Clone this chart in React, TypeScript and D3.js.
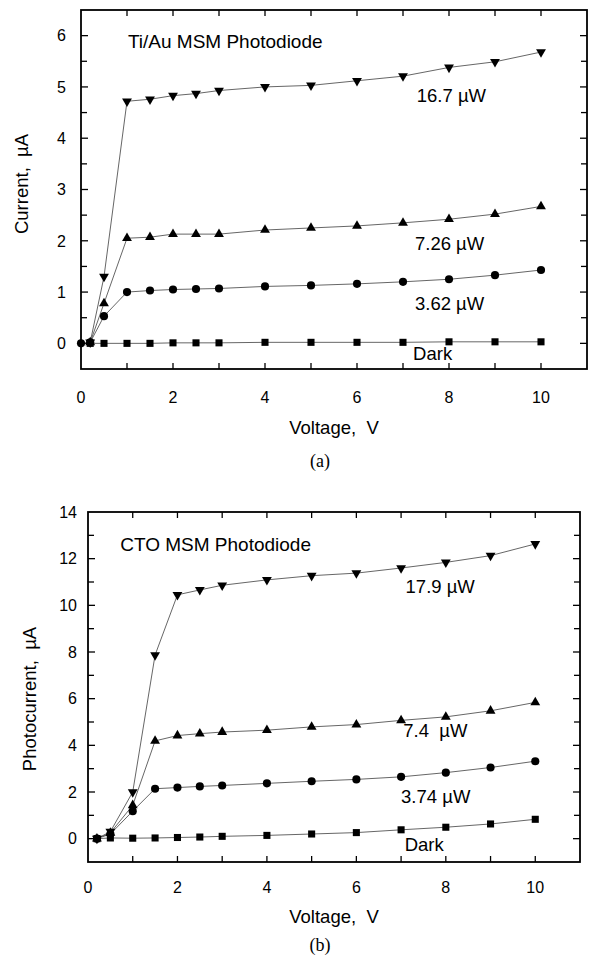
import { useEffect, useRef } from 'react'
import * as d3 from 'd3'

// ---- panel (a): Ti/Au MSM photodiode ----
const voltsA = [0.2, 0.5, 1, 1.5, 2, 2.5, 3, 4, 5, 6, 7, 8, 9, 10]
const darkA = [0, 0, 0, 0, 0.01, 0.01, 0.01, 0.02, 0.02, 0.02, 0.02, 0.03, 0.03, 0.03]
const voltsA362 = [0, 0.2, 0.5, 1, 1.5, 2, 2.5, 3, 4, 5, 6, 7, 8, 9, 10]
const curA362 = [0, 0.02, 0.53, 1.0, 1.03, 1.05, 1.06, 1.07, 1.11, 1.13, 1.16, 1.2, 1.25, 1.33, 1.43]
const curA726 = [0.02, 0.78, 2.05, 2.07, 2.13, 2.13, 2.13, 2.21, 2.25, 2.29, 2.35, 2.42, 2.52, 2.67]
const curA167 = [0.02, 1.3, 4.72, 4.76, 4.83, 4.87, 4.93, 5.0, 5.03, 5.12, 5.21, 5.38, 5.49, 5.68]
const labelsA = ['16.7 \u00b5W', '7.26 \u00b5W', '3.62 \u00b5W', 'Dark']

// ---- panel (b): CTO MSM photodiode ----
const voltsB = [0.2, 0.5, 1, 1.5, 2, 2.5, 3, 4, 5, 6, 7, 8, 9, 10]
const darkB = [0, 0.03, 0.02, 0.03, 0.05, 0.07, 0.1, 0.14, 0.2, 0.26, 0.38, 0.49, 0.63, 0.83]
const curB374 = [0, 0.2, 1.18, 2.14, 2.19, 2.24, 2.28, 2.37, 2.46, 2.54, 2.65, 2.83, 3.05, 3.32]
const curB74 = [0, 0.25, 1.43, 4.19, 4.42, 4.5, 4.57, 4.65, 4.79, 4.89, 5.07, 5.22, 5.48, 5.84]
const curB179 = [0, 0.3, 2.0, 7.87, 10.45, 10.66, 10.86, 11.09, 11.27, 11.38, 11.6, 11.84, 12.13, 12.63]
const labelsB = ['17.9 \u00b5W', '7.4  \u00b5W', '3.74 \u00b5W', 'Dark']

const zip = (xs: number[], ys: number[]) => xs.map((v, i) => [v, ys[i]] as [number, number])

const FONT = 'Liberation Sans, Arial, Helvetica, sans-serif'

const panels = [
  {
    left: 81, right: 587, top: 10, bottom: 369,
    xDomain: [0, 11], yDomain: [-0.5, 6.5],
    yMinorCount: 14, yMajorEvery: 1, yPad: 15, xTickDy: 34,
    title: 'Ti/Au MSM Photodiode', titleAt: [1.02, 5.76],
    yLabel: 'Current,  \u00b5A', yLabelX: 28, yLabelY: 184,
    xLabelY: 434, tag: '(a)', tagY: 467,
    series: [
      { pts: zip(voltsA, darkA), shape: 'square' },
      { pts: zip(voltsA362, curA362), shape: 'circle' },
      { pts: zip(voltsA, curA726), shape: 'up' },
      { pts: zip(voltsA, curA167), shape: 'down' },
    ],
    labels: labelsA,
    labelAt: [[7.3, 4.71], [7.26, 1.83], [7.26, 0.66], [7.22, -0.33]],
  },
  {
    left: 88, right: 580, top: 512, bottom: 862,
    xDomain: [0, 11], yDomain: [-1, 14],
    yMinorCount: 15, yMajorEvery: 2, yPad: 11, xTickDy: 31,
    title: 'CTO MSM Photodiode', titleAt: [0.72, 12.34],
    yLabel: 'Photocurrent,  \u00b5A', yLabelX: 36, yLabelY: 699,
    xLabelY: 923, tag: '(b)', tagY: 951,
    series: [
      { pts: zip(voltsB, darkB), shape: 'square' },
      { pts: zip(voltsB, curB374), shape: 'circle' },
      { pts: zip(voltsB, curB74), shape: 'up' },
      { pts: zip(voltsB, curB179), shape: 'down' },
    ],
    labels: labelsB,
    labelAt: [[7.1, 10.53], [7.05, 4.36], [7.0, 1.52], [7.08, -0.53]],
  },
]

const symbolFor = (shape: string) => {
  if (shape === 'square') return d3.symbol().type(d3.symbolSquare).size(50)()
  if (shape === 'circle') return d3.symbol().type(d3.symbolCircle).size(52)()
  return d3.symbol().type(d3.symbolTriangle).size(42)()
}

function drawPanel(svg: any, p: any) {
  const x = d3.scaleLinear().domain(p.xDomain).range([p.left, p.right])
  const y = d3.scaleLinear().domain(p.yDomain).range([p.bottom, p.top])
  const g = svg.append('g')

  // ticks point inwards on all four sides
  const xTicks = x.ticks(11).filter((v: number) => v > p.xDomain[0] && v < p.xDomain[1])
  xTicks.forEach((v: number) => {
    g.append('line').attr('x1', x(v)).attr('x2', x(v)).attr('y1', p.bottom).attr('y2', p.bottom - 6)
      .attr('stroke', '#000').attr('stroke-width', 1.3)
    g.append('line').attr('x1', x(v)).attr('x2', x(v)).attr('y1', p.top).attr('y2', p.top + 6)
      .attr('stroke', '#000').attr('stroke-width', 1.3)
  })
  x.ticks(11).filter((v: number) => v % 2 === 0 && v <= 10).forEach((v: number) => {
    g.append('text').attr('x', x(v)).attr('y', p.bottom + p.xTickDy)
      .attr('text-anchor', 'middle').attr('font-family', FONT).attr('font-size', 16)
      .text(v)
  })

  const yAll = y.ticks(p.yMinorCount)
  yAll.forEach((v: number) => {
    const major = Math.abs(v % p.yMajorEvery) < 1e-9 && v >= 0
    const inside = v > p.yDomain[0] && v < p.yDomain[1]
    const len = major ? 7 : 6
    if (inside) {
      g.append('line').attr('x1', p.left).attr('x2', p.left + len).attr('y1', y(v)).attr('y2', y(v))
        .attr('stroke', '#000').attr('stroke-width', 1.3)
      g.append('line').attr('x1', p.right).attr('x2', p.right - len).attr('y1', y(v)).attr('y2', y(v))
        .attr('stroke', '#000').attr('stroke-width', 1.3)
    }
    if (major) {
      g.append('text').attr('x', p.left - p.yPad).attr('y', y(v)).attr('dy', '0.36em')
        .attr('text-anchor', 'end').attr('font-family', FONT).attr('font-size', 16)
        .text(v)
    }
  })

  g.append('rect')
    .attr('x', p.left).attr('y', p.top)
    .attr('width', p.right - p.left).attr('height', p.bottom - p.top)
    .attr('fill', 'none').attr('stroke', '#000').attr('stroke-width', 1.8)

  const line = d3.line<[number, number]>().x(d => x(d[0])).y(d => y(d[1]))

  p.series.forEach((s: any) => {
    g.append('path').datum(s.pts).attr('d', line)
      .attr('fill', 'none').attr('stroke', '#555').attr('stroke-width', 0.9)
  })
  p.series.forEach((s: any) => {
    g.selectAll(null).data(s.pts).enter().append('path')
      .attr('d', symbolFor(s.shape))
      .attr('transform', (d: [number, number]) =>
        `translate(${x(d[0])},${y(d[1])})` + (s.shape === 'down' ? ' rotate(180)' : ''))
      .attr('fill', '#000')
  })

  g.append('text').attr('x', x(p.titleAt[0])).attr('y', y(p.titleAt[1]))
    .attr('font-family', FONT).attr('font-size', 19).text(p.title)

  p.labels.forEach((t: string, i: number) => {
    g.append('text').attr('x', x(p.labelAt[i][0])).attr('y', y(p.labelAt[i][1]))
      .attr('font-family', FONT).attr('font-size', 18.5)
      .style('white-space', 'pre').text(t)
  })

  g.append('text').attr('x', (p.left + p.right) / 2).attr('y', p.xLabelY)
    .attr('text-anchor', 'middle').attr('font-family', FONT).attr('font-size', 18.5)
    .style('white-space', 'pre').text('Voltage,  V')

  g.append('text')
    .attr('transform', `translate(${p.yLabelX},${p.yLabelY}) rotate(-90)`)
    .attr('text-anchor', 'middle').attr('font-family', FONT).attr('font-size', 18.5)
    .style('white-space', 'pre').text(p.yLabel)

  g.append('text').attr('x', 320).attr('y', p.tagY)
    .attr('text-anchor', 'middle').attr('font-family', 'Liberation Serif, Times New Roman, serif')
    .attr('font-size', 18).text(p.tag)
}

export default function App() {
  const ref = useRef<SVGSVGElement>(null)

  useEffect(() => {
    const svg = d3.select(ref.current)
    svg.selectAll('*').remove()
    panels.forEach(p => drawPanel(svg, p))
  }, [])

  return (
    <svg
      ref={ref}
      width={589}
      height={964}
      style={{ position: 'absolute', left: 0, top: 0, background: '#fff' }}
    />
  )
}
